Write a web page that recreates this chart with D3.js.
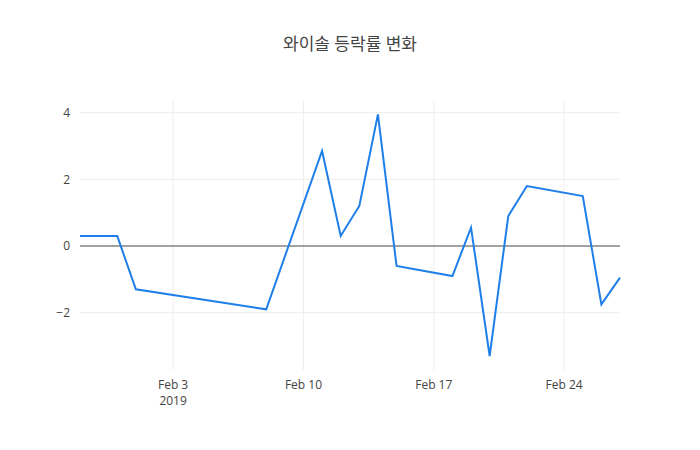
<!DOCTYPE html>
<html><head><meta charset="utf-8">
<script src="https://cdn.jsdelivr.net/npm/d3@7"></script>
<style>body{margin:0;background:#fff}text{font-family:"Open Sans","Noto Sans CJK KR",sans-serif}</style>
</head><body><div id="chart"></div>
<script>
const dates = ["2019-01-29","2019-01-31","2019-02-01","2019-02-08","2019-02-11","2019-02-12","2019-02-13","2019-02-14","2019-02-15","2019-02-18","2019-02-19","2019-02-20","2019-02-21","2019-02-22","2019-02-25","2019-02-26","2019-02-27"];
const changes = [0.3,0.3,-1.3,-1.9,2.85,0.3,1.2,3.95,-0.6,-0.9,0.55,-3.3,0.9,1.8,1.5,-1.75,-0.95];
const yTicks = [-2,0,2,4];
const xTicks = ["2019-02-03","2019-02-10","2019-02-17","2019-02-24"];

const parse = d3.timeParse("%Y-%m-%d");
const data = dates.map((d, i) => ({ date: parse(d), v: changes[i] }));
const W = 700, H = 450, m = { top: 100, right: 80, bottom: 80, left: 80 };

const svg = d3.select("#chart").append("svg").attr("width", W).attr("height", H);

const x = d3.scaleTime().domain(d3.extent(data, d => d.date)).range([m.left, W - m.right]);
const y = d3.scaleLinear().domain([-3.72, 4.38]).range([H - m.bottom, m.top]);

// grid
svg.append("g").selectAll("line").data(xTicks.map(parse)).join("line")
  .attr("x1", d => x(d)).attr("x2", d => x(d)).attr("y1", m.top).attr("y2", H - m.bottom)
  .attr("stroke", "#eee");
svg.append("g").selectAll("line").data(yTicks.filter(t => t !== 0)).join("line")
  .attr("x1", m.left).attr("x2", W - m.right).attr("y1", d => y(d)).attr("y2", d => y(d))
  .attr("stroke", "#eee");
svg.append("line").attr("x1", m.left).attr("x2", W - m.right)
  .attr("y1", y(0)).attr("y2", y(0)).attr("stroke", "#444");

// y labels
svg.append("g").selectAll("text").data(yTicks).join("text")
  .attr("x", m.left - 10).attr("y", d => y(d)).attr("dy", "0.35em")
  .attr("text-anchor", "end").attr("font-size", 12).attr("fill", "#444")
  .text(d => d < 0 ? "\u2212" + Math.abs(d) : d);

// x labels
const fmt = d3.timeFormat("%b %-d");
svg.append("g").selectAll("text").data(xTicks.map(parse)).join("text")
  .attr("x", d => x(d)).attr("y", H - m.bottom + 19)
  .attr("text-anchor", "middle").attr("font-size", 12).attr("fill", "#444")
  .text(d => fmt(d));
svg.append("text").attr("x", x(parse(xTicks[0]))).attr("y", H - m.bottom + 35)
  .attr("text-anchor", "middle").attr("font-size", 12).attr("fill", "#444").text("2019");

// line
svg.append("path").datum(data)
  .attr("d", d3.line().x(d => x(d.date)).y(d => y(d.v)))
  .attr("fill", "none").attr("stroke", "#1f7fe8").attr("stroke-width", 2);

svg.append("text").attr("x", W / 2).attr("y", 50).attr("text-anchor", "middle")
  .attr("font-size", 17).attr("fill", "#444").text("와이솔 등락률 변화");
</script></body></html>
